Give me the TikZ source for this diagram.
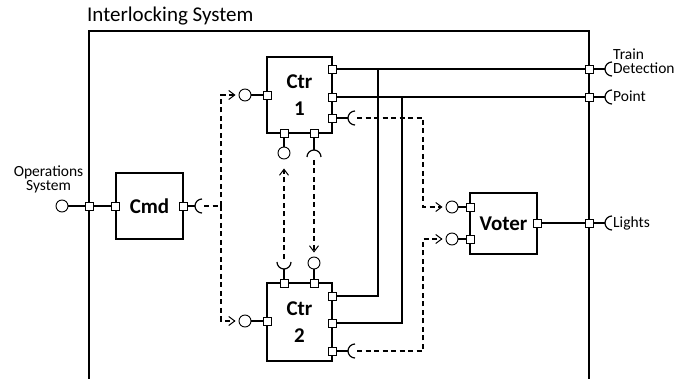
\documentclass[tikz,border=0pt]{standalone}
\usepackage{fontspec}
\setmainfont{Carlito}
\usetikzlibrary{arrows.meta,calc}
\begin{document}
\begin{tikzpicture}[x=1pt,y=-1pt,
  port/.style={draw,fill=white,rectangle,minimum size=8pt,inner sep=0pt,line width=0.9pt},
  ball/.style={draw,fill=white,circle,minimum size=12pt,inner sep=0pt,line width=0.9pt},
  comp/.style={draw,line width=1.3pt,inner sep=0pt,align=center,font=\fontsize{21}{27}\selectfont\bfseries},
  wire/.style={line width=1.2pt},
  dep/.style={line width=1.1pt,dash pattern=on 5pt off 3.5pt},
  arr/.style={-{Straight Barb[length=6pt,width=9pt,line width=1pt]}},
  small/.style={font=\fontsize{15.5}{14.5}\selectfont,inner sep=0pt},
]
\useasboundingbox (0,0) rectangle (689,379);
\fill[white] (0,0) rectangle (689,379);

% system frame and title
\draw[line width=1.5pt] (89,390) -- (89,31) -- (589,31) -- (589,390);
\node[anchor=base west,font=\fontsize{21}{25}\selectfont,inner sep=0pt] (title) at (87,22) {Interlocking System};

% components
\node[comp,minimum width=67pt,minimum height=66pt] (cmd) at (149.5,206) {Cmd};
\node[comp,minimum width=65pt,minimum height=76pt] (c1) at (299.5,95) {Ctr\\1};
\node[comp,minimum width=65pt,minimum height=78pt] (c2) at (299.5,322) {Ctr\\2};
\node[comp,minimum width=67pt,minimum height=61pt] (vot) at (503.5,223.5) {Voter};

% junction / socket coordinates
\coordinate (sCmd) at (202,206);
\coordinate (sC1R) at (355,118);
\coordinate (sC1B) at (314,157);
\coordinate (sC2T) at (284,262);
\coordinate (sC2R) at (355,351);
\coordinate (sTD) at (612,69);
\coordinate (sPt) at (612,97);
\coordinate (sLt) at (612,223);
\coordinate (jA) at (221,206);
\coordinate (jT) at (378,69);
\coordinate (jP) at (402,97);
\coordinate (jV1) at (423,118);
\coordinate (jV2) at (423,351);

% solid wires (drawn before ports)
\draw[wire] (332,69) -- (589,69);
\draw[wire] (332,97) -- (589,97);
\draw[wire] (332,296) -| (jT);
\draw[wire] (332,323) -| (jP);
\draw[wire] (537,223) -- (589,223);

% balls (provided interfaces)
\node[ball] (bOp) at (62,206) {};
\node[ball] (b1L) at (245,95) {};
\node[ball] (b1B) at (284,153) {};
\node[ball] (b2L) at (245,321) {};
\node[ball] (b2T) at (314,263) {};
\node[ball] (bV1) at (452,207) {};
\node[ball] (bV2) at (452,239) {};

% ports
\node[port] (fOp) at (89,206) {};
\node[port] (cmdL) at (cmd.west) {};
\node[port] (cmdR) at (cmd.east) {};
\node[port] (c1L) at (267,95) {};
\node[port] (c1R1) at (332,69) {};
\node[port] (c1R2) at (332,97) {};
\node[port] (c1R3) at (332,118) {};
\node[port] (c1B1) at (284,133) {};
\node[port] (c1B2) at (314,133) {};
\node[port] (c2L) at (267,321) {};
\node[port] (c2R1) at (332,296) {};
\node[port] (c2R2) at (332,323) {};
\node[port] (c2R3) at (332,351) {};
\node[port] (c2T1) at (284,283) {};
\node[port] (c2T2) at (314,283) {};
\node[port] (vL1) at (470,207) {};
\node[port] (vL2) at (470,239) {};
\node[port] (vR) at (537,223) {};
\node[port] (fTD) at (589,69) {};
\node[port] (fPt) at (589,97) {};
\node[port] (fLt) at (589,223) {};

% stems to balls
\draw[wire] (bOp) -- (fOp);
\draw[wire] (fOp) -- (cmdL);
\draw[wire] (b1L) -- (c1L);
\draw[wire] (b2L) -- (c2L);
\draw[wire] (bV1) -- (vL1);
\draw[wire] (bV2) -- (vL2);
\draw[wire] (c1B1) -- (b1B);
\draw[wire] (c2T2) -- (b2T);

% stems to sockets and sockets
\draw[wire] (cmdR) -- ([xshift=-7pt]sCmd);
\draw[wire] (c1R3) -- ([xshift=-7pt]sC1R);
\draw[wire] (c2R3) -- ([xshift=-7pt]sC2R);
\draw[wire] (c1B2) -- ([yshift=7pt]sC1B);
\draw[wire] (c2T1) -- ([yshift=-7pt]sC2T);
\draw[wire] (fTD) -- ([xshift=-7pt]sTD);
\draw[wire] (fPt) -- ([xshift=-7pt]sPt);
\draw[wire] (fLt) -- ([xshift=-7pt]sLt);
\foreach \s in {sCmd,sC1R,sC2R,sTD,sPt,sLt}
  \draw[wire] ([yshift=7pt]\s) arc[start angle=90,end angle=270,radius=7pt];
\draw[wire] ([xshift=-7pt]sC1B) arc[start angle=180,end angle=0,radius=7pt];
\draw[wire] ([xshift=-7pt]sC2T) arc[start angle=180,end angle=360,radius=7pt];

% dependencies (dashed)
\draw[dep] ([xshift=2pt]sCmd) -- (jA);
\draw[dep,arr,shorten >=3pt] (jA) |- (b1L);
\draw[dep,arr,shorten >=3pt] (jA) |- (b2L);
\draw[dep,arr,shorten >=9pt] ([yshift=3pt]sC2T) -- (b1B);
\draw[dep,arr,shorten >=4pt] ([yshift=-3pt]sC1B) -- (b2T);
\draw[dep,arr,shorten >=3pt] ([xshift=2pt]sC1R) -- (jV1) |- (bV1);
\draw[dep,arr,shorten >=3pt] ([xshift=2pt]sC2R) -- (jV2) |- (bV2);

% external labels
\node[small,anchor=base] (lOp) at (48.5,176.5) {Operations};
\node[small,anchor=base] (lSys) at (48.5,191) {System};
\node[small,anchor=base west] (lTr) at (613,59.5) {Train};
\node[small,anchor=base west] (lTD) at (613,74) {Detection};
\node[small,anchor=base west] (lPt) at (613,102) {Point};
\node[small,anchor=base west] (lLt) at (613,228) {Lights};
\end{tikzpicture}
\end{document}
